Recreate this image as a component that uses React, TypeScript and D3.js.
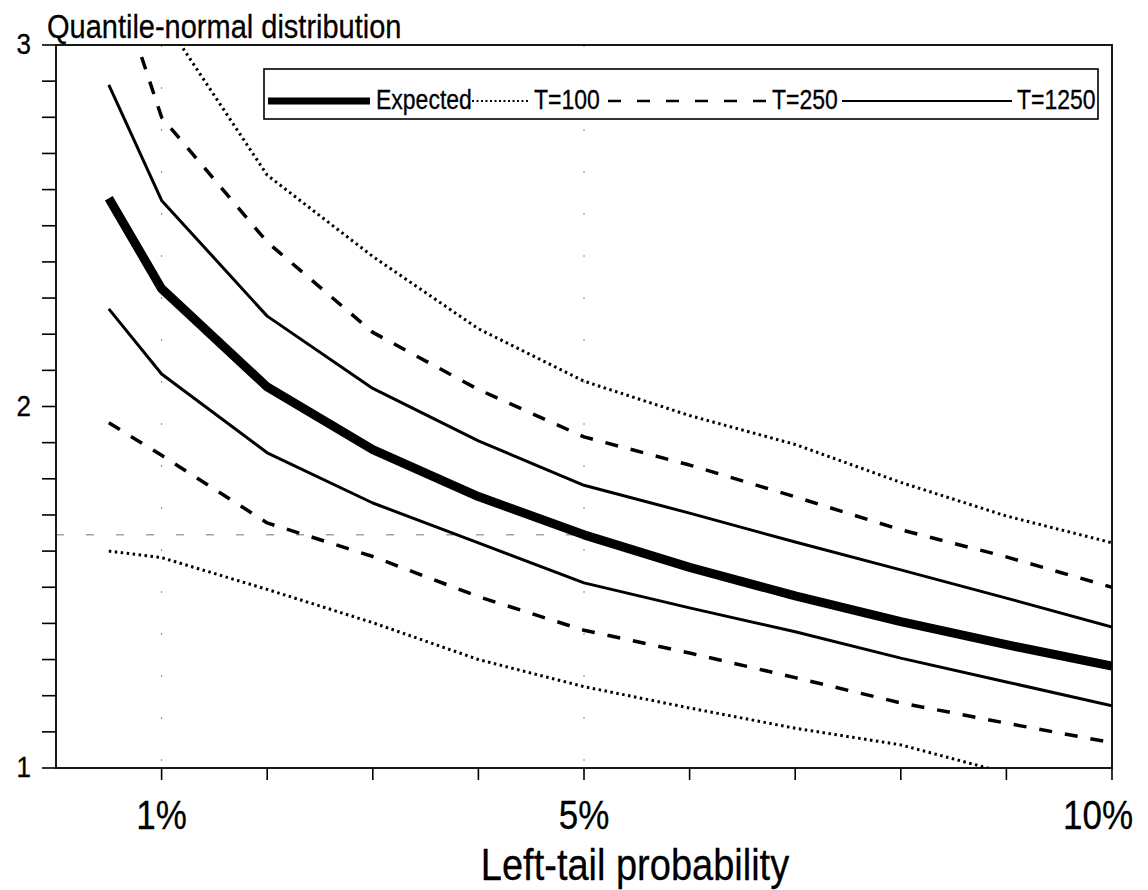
import React from "react";
import * as d3 from "d3";

// left-tail probabilities (x) and the quantile curves
const probs = [0.005, 0.01, 0.02, 0.03, 0.04, 0.05, 0.06, 0.07, 0.08, 0.09, 0.1];
const expected = [2.576, 2.326, 2.054, 1.881, 1.751, 1.645, 1.555, 1.476, 1.405, 1.341, 1.282];
const t1250Upper = [2.89, 2.57, 2.25, 2.05, 1.905, 1.782, 1.705, 1.625, 1.548, 1.47, 1.39];
const t1250Lower = [2.27, 2.09, 1.872, 1.733, 1.623, 1.512, 1.443, 1.377, 1.304, 1.238, 1.172];
const t250Upper = [3.24, 2.8, 2.455, 2.205, 2.047, 1.916, 1.838, 1.75, 1.659, 1.584, 1.5];
const t250Lower = [1.955, 1.865, 1.678, 1.585, 1.474, 1.381, 1.318, 1.25, 1.18, 1.124, 1.07];
const t100Upper = [3.6, 3.08, 2.64, 2.415, 2.215, 2.07, 1.975, 1.895, 1.79, 1.697, 1.623];
const t100Lower = [1.6, 1.582, 1.494, 1.402, 1.3, 1.225, 1.166, 1.11, 1.064, 0.986, 0.93];

const xTickValues = [0.01, 0.02, 0.03, 0.04, 0.05, 0.06, 0.07, 0.08, 0.09, 0.1];
const xTickLabels: Record<string, string> = { "0.01": "1%", "0.05": "5%", "0.1": "10%" };
const yLabelValues = [1, 2, 3];
const guideX = [0.01, 0.05];
const guideY = [1.645];

const series = [
  { name: "T=100", values: t100Upper, width: 3, dash: "2.5 3.5" },
  { name: "T=100", values: t100Lower, width: 3, dash: "2.5 3.5" },
  { name: "T=250", values: t250Upper, width: 3.5, dash: "13 13" },
  { name: "T=250", values: t250Lower, width: 3.5, dash: "13 13" },
  { name: "T=1250", values: t1250Upper, width: 3, dash: null },
  { name: "T=1250", values: t1250Lower, width: 3, dash: null },
  { name: "Expected", values: expected, width: 9, dash: null },
];

const legendItems = [
  { name: "Expected", width: 7, dash: null, x0: 268, x1: 370, tx: 376 },
  { name: "T=100", width: 2, dash: "2 2.5", x0: 472, x1: 529, tx: 534 },
  { name: "T=250", width: 2.5, dash: "13 16", x0: 608, x1: 768, tx: 772 },
  { name: "T=1250", width: 2.2, dash: null, x0: 842, x1: 1012, tx: 1017 },
];

const W = 1148;
const H = 890;
const margin = { top: 45, right: 36, bottom: 122, left: 56 };
const FONT = "'Liberation Sans', Arial, sans-serif";
const STRETCH = 1.17; // the scanned text is a little taller than it is wide

function Label({ x, y, size, anchor = "start", children }: any) {
  return (
    <g transform={`translate(${x},${y}) scale(1,${STRETCH})`}>
      <text x={0} y={0} fontSize={size} textAnchor={anchor} stroke="#000" strokeWidth={0.25}>
        {children}
      </text>
    </g>
  );
}

export default function App() {
  const x = d3.scaleLinear().domain([0, 0.1]).range([margin.left, W - margin.right]);
  const y = d3.scaleLinear().domain([1, 3]).range([H - margin.bottom, margin.top]);
  const yTicks = d3.range(10, 31).map((d) => d / 10);

  const line = d3
    .line<number>()
    .x((_, i) => x(probs[i]))
    .y((d) => y(d));

  const [x0, x1] = x.range();
  const [y0, y1] = y.range();

  return (
    <svg
      width={W}
      height={H}
      style={{ position: "absolute", left: 0, top: 0, background: "#fff" }}
      fontFamily={FONT}
    >
      <defs>
        <clipPath id="plot">
          <rect x={x0} y={y1} width={x1 - x0} height={y0 - y1} />
        </clipPath>
      </defs>
      <rect width={W} height={H} fill="#fff" />

      {/* faint guide lines */}
      {guideX.map((g) => (
        <line key={"gx" + g} x1={x(g)} x2={x(g)} y1={y1} y2={y0} stroke="#888" strokeWidth={1} strokeDasharray="2 40" />
      ))}
      {guideY.map((g) => (
        <line key={"gy" + g} x1={x0} x2={x(0.05)} y1={y(g)} y2={y(g)} stroke="#777" strokeWidth={1} strokeDasharray="8 22" />
      ))}

      <g clipPath="url(#plot)">
        {series.map((s, i) => (
          <path
            key={i}
            d={line(s.values) || ""}
            fill="none"
            stroke="#000"
            strokeWidth={s.width}
            strokeDasharray={s.dash || undefined}
            strokeLinejoin="round"
          />
        ))}
      </g>

      {/* frame */}
      <rect x={x0} y={y1} width={x1 - x0} height={y0 - y1} fill="none" stroke="#000" strokeWidth={1.8} />

      {/* y axis */}
      {yTicks.map((t) => (
        <line key={"yt" + t} x1={x0 - 14} x2={x0} y1={y(t)} y2={y(t)} stroke="#000" strokeWidth={1.6} />
      ))}
      {yLabelValues.map((t) => (
        <Label key={"yl" + t} x={31} y={y(t) + 9} size={26} anchor="end">
          {t}
        </Label>
      ))}

      {/* x axis */}
      {xTickValues.map((t) => (
        <line key={"xt" + t} x1={x(t)} x2={x(t)} y1={y0} y2={y0 + 12} stroke="#000" strokeWidth={1.6} />
      ))}
      {xTickValues
        .filter((t) => xTickLabels[String(t)])
        .map((t) => (
          <Label key={"xl" + t} x={Math.min(x(t), W - 50)} y={829} size={35} anchor="middle">
            {xTickLabels[String(t)]}
          </Label>
        ))}
      <Label x={635} y={880} size={38} anchor="middle">
        Left-tail probability
      </Label>

      {/* title */}
      <Label x={47} y={38} size={29}>
        Quantile-normal distribution
      </Label>

      {/* legend */}
      <rect x={264} y={69} width={834} height={50} fill="#fff" stroke="#000" strokeWidth={1.6} />
      {legendItems.map((l) => (
        <g key={l.name}>
          <line
            x1={l.x0}
            x2={l.x1}
            y1={101}
            y2={101}
            stroke="#000"
            strokeWidth={l.width}
            strokeDasharray={l.dash || undefined}
          />
          <Label x={l.tx} y={109} size={23}>
            {l.name}
          </Label>
        </g>
      ))}
    </svg>
  );
}
